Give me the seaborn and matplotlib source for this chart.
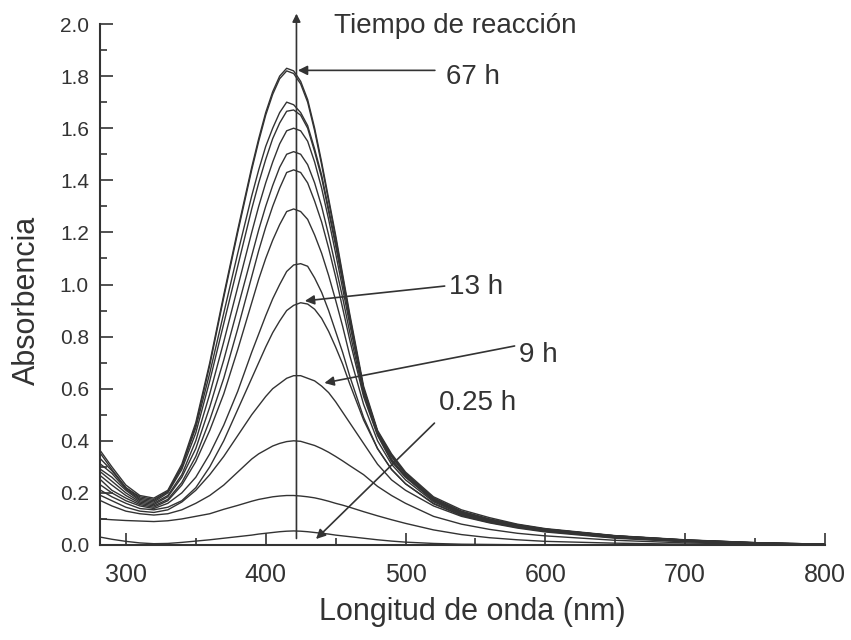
import numpy as np
import pandas as pd
import matplotlib
matplotlib.use("Agg")
import matplotlib.pyplot as plt
import seaborn as sns
from matplotlib.ticker import MultipleLocator

# ---------------- data ----------------
wavelength = [282, 290, 300, 310, 320, 330, 340, 350, 360, 370, 380, 390, 395, 400, 405,
              410, 415, 420, 425, 430, 435, 440, 445, 450, 455, 460, 470, 480, 490, 500,
              520, 540, 560, 580, 600, 650, 700, 750, 800]

abs_c1 = [0.36, 0.30, 0.23, 0.19, 0.18, 0.21, 0.31, 0.47, 0.70, 0.96, 1.21, 1.45, 1.56, 1.66, 1.74,
          1.80, 1.83, 1.82, 1.78, 1.71, 1.60, 1.47, 1.33, 1.19, 1.04, 0.89, 0.61, 0.44, 0.35, 0.28,
          0.185, 0.135, 0.105, 0.080, 0.063, 0.036, 0.020, 0.009, 0.003]
abs_c2 = [0.35, 0.29, 0.22, 0.185, 0.175, 0.205, 0.30, 0.46, 0.69, 0.95, 1.20, 1.44, 1.55, 1.65, 1.73,
          1.79, 1.82, 1.81, 1.77, 1.70, 1.59, 1.46, 1.32, 1.18, 1.03, 0.88, 0.60, 0.43, 0.34, 0.275,
          0.18, 0.13, 0.10, 0.077, 0.061, 0.035, 0.019, 0.009, 0.003]
abs_c3 = [0.33, 0.285, 0.22, 0.18, 0.17, 0.205, 0.30, 0.45, 0.66, 0.89, 1.12, 1.34, 1.44, 1.53, 1.60,
          1.66, 1.70, 1.69, 1.66, 1.61, 1.52, 1.42, 1.29, 1.16, 1.02, 0.875, 0.60, 0.435, 0.345, 0.275,
          0.18, 0.128, 0.099, 0.078, 0.061, 0.035, 0.019, 0.009, 0.003]
abs_c4 = [0.31, 0.275, 0.215, 0.175, 0.165, 0.20, 0.29, 0.43, 0.63, 0.85, 1.07, 1.29, 1.39, 1.48, 1.56,
          1.62, 1.665, 1.67, 1.65, 1.60, 1.51, 1.41, 1.28, 1.15, 1.01, 0.87, 0.60, 0.435, 0.34, 0.27,
          0.177, 0.126, 0.097, 0.077, 0.060, 0.035, 0.019, 0.008, 0.002]
abs_c5 = [0.29, 0.26, 0.21, 0.17, 0.16, 0.19, 0.27, 0.40, 0.58, 0.78, 0.99, 1.20, 1.30, 1.39, 1.47,
          1.54, 1.59, 1.60, 1.59, 1.55, 1.47, 1.37, 1.25, 1.12, 0.985, 0.85, 0.59, 0.43, 0.33, 0.265,
          0.174, 0.124, 0.096, 0.076, 0.060, 0.034, 0.018, 0.008, 0.002]
abs_c6 = [0.28, 0.245, 0.20, 0.165, 0.155, 0.185, 0.26, 0.37, 0.53, 0.71, 0.91, 1.11, 1.21, 1.30, 1.38,
          1.45, 1.50, 1.51, 1.50, 1.46, 1.39, 1.30, 1.19, 1.07, 0.95, 0.82, 0.58, 0.425, 0.325, 0.262,
          0.172, 0.122, 0.094, 0.074, 0.059, 0.033, 0.018, 0.008, 0.002]
abs_c7 = [0.265, 0.23, 0.19, 0.16, 0.15, 0.175, 0.24, 0.34, 0.48, 0.64, 0.83, 1.03, 1.13, 1.22, 1.30,
          1.37, 1.43, 1.44, 1.43, 1.39, 1.32, 1.24, 1.14, 1.03, 0.91, 0.79, 0.57, 0.42, 0.32, 0.26,
          0.170, 0.120, 0.093, 0.073, 0.058, 0.032, 0.017, 0.007, 0.002]
abs_c8 = [0.25, 0.21, 0.18, 0.155, 0.145, 0.17, 0.23, 0.32, 0.44, 0.58, 0.75, 0.93, 1.02, 1.10, 1.17,
          1.23, 1.28, 1.29, 1.28, 1.25, 1.19, 1.12, 1.035, 0.94, 0.84, 0.73, 0.54, 0.40, 0.31, 0.25,
          0.166, 0.118, 0.091, 0.071, 0.056, 0.031, 0.016, 0.007, 0.002]
abs_c9 = [0.23, 0.20, 0.17, 0.15, 0.14, 0.16, 0.20, 0.26, 0.35, 0.46, 0.59, 0.74, 0.81, 0.88, 0.945,
          1.00, 1.05, 1.075, 1.08, 1.07, 1.025, 0.97, 0.90, 0.82, 0.74, 0.65, 0.49, 0.37, 0.29, 0.235,
          0.158, 0.113, 0.087, 0.068, 0.053, 0.029, 0.015, 0.006, 0.002]
abs_c10 = [0.21, 0.185, 0.16, 0.14, 0.135, 0.145, 0.17, 0.22, 0.30, 0.40, 0.52, 0.64, 0.70, 0.76, 0.815,
           0.86, 0.90, 0.92, 0.93, 0.925, 0.905, 0.87, 0.82, 0.76, 0.695, 0.62, 0.48, 0.37, 0.29, 0.235,
           0.16, 0.115, 0.088, 0.068, 0.053, 0.028, 0.014, 0.006, 0.002]
abs_c11 = [0.19, 0.17, 0.145, 0.13, 0.125, 0.135, 0.165, 0.21, 0.27, 0.34, 0.42, 0.50, 0.535, 0.57, 0.60,
           0.62, 0.64, 0.65, 0.65, 0.64, 0.63, 0.61, 0.585, 0.55, 0.51, 0.47, 0.39, 0.31, 0.25, 0.21,
           0.15, 0.11, 0.085, 0.065, 0.050, 0.026, 0.012, 0.005, 0.001]
abs_c12 = [0.17, 0.15, 0.13, 0.12, 0.115, 0.12, 0.135, 0.16, 0.19, 0.23, 0.28, 0.33, 0.35, 0.365, 0.38,
           0.39, 0.397, 0.40, 0.398, 0.39, 0.382, 0.37, 0.356, 0.34, 0.323, 0.305, 0.27, 0.225, 0.19, 0.16,
           0.11, 0.08, 0.06, 0.045, 0.035, 0.018, 0.008, 0.003, 0.0]
abs_c13 = [0.10, 0.097, 0.094, 0.092, 0.09, 0.093, 0.10, 0.11, 0.12, 0.137, 0.152, 0.168, 0.175, 0.18, 0.185,
           0.188, 0.19, 0.19, 0.188, 0.185, 0.181, 0.175, 0.168, 0.16, 0.153, 0.145, 0.128, 0.112, 0.097, 0.083,
           0.058, 0.04, 0.028, 0.02, 0.014, 0.007, 0.003, 0.001, 0.0]
abs_c14 = [0.03, 0.022, 0.014, 0.008, 0.005, 0.006, 0.01, 0.015, 0.02, 0.026, 0.032, 0.038, 0.042, 0.045, 0.048,
           0.051, 0.053, 0.054, 0.053, 0.051, 0.048, 0.045, 0.042, 0.038, 0.035, 0.032, 0.026, 0.02, 0.015, 0.011,
           0.006, 0.003, 0.002, 0.001, 0.001, 0.0, 0.0, 0.0, 0.0]

curve_names = ["c1", "c2", "c3", "c4", "c5", "c6", "c7", "c8", "c9", "c10", "c11", "c12", "c13", "c14"]
curve_values = [abs_c1, abs_c2, abs_c3, abs_c4, abs_c5, abs_c6, abs_c7, abs_c8, abs_c9, abs_c10,
                abs_c11, abs_c12, abs_c13, abs_c14]

x_ticks = [300, 400, 500, 600, 700, 800]
y_ticks = [0.0, 0.2, 0.4, 0.6, 0.8, 1.0, 1.2, 1.4, 1.6, 1.8, 2.0]

# annotations: (label, text position, arrow start, arrow tip)
labels = ["67 h", "13 h", "9 h", "0.25 h"]
label_pos = [(529, 1.797), (531, 0.99), (581, 0.73), (524, 0.545)]
arrow_start = [(521, 1.822), (528, 0.994), (578, 0.764), (520.7, 0.468)]
arrow_tip = [(423, 1.822), (428, 0.937), (442, 0.622), (436, 0.023)]
marker_wavelength = 422
title_text = "Tiempo de reacción"

# ---------------- build table ----------------
rows = []
for name, vals in zip(curve_names, curve_values):
    for w, a in zip(wavelength, vals):
        rows.append({"nm": w, "A": a, "curve": name})
df = pd.DataFrame(rows)

INK = "#333333"

sns.set_theme(style="ticks")
plt.rcParams['font.family'] = ['Liberation Sans', 'DejaVu Sans']
plt.rcParams['text.color'] = INK
plt.rcParams['axes.labelcolor'] = INK
plt.rcParams['xtick.color'] = INK
plt.rcParams['ytick.color'] = INK

fig = plt.figure(figsize=(8.51, 6.40), dpi=100)
ax = fig.add_axes([100 / 851, 95 / 640, 725 / 851, 521 / 640])

sns.lineplot(data=df, x="nm", y="A", units="curve", estimator=None, sort=False,
             color=INK, lw=1.0, ax=ax, legend=False)

ax.set_xlim(281.5, 800)
ax.set_ylim(0, 2.0)
ax.set_xticks(x_ticks)
ax.set_yticks(y_ticks)
ax.set_xticklabels([str(v) for v in x_ticks])
ax.set_yticklabels([f"{v:.1f}" for v in y_ticks])
ax.xaxis.set_minor_locator(MultipleLocator(50))
ax.yaxis.set_minor_locator(MultipleLocator(0.1))

for s in ["top", "right"]:
    ax.spines[s].set_visible(False)
for s in ["left", "bottom"]:
    ax.spines[s].set_color(INK)
    ax.spines[s].set_linewidth(1.5)

ax.tick_params(axis="both", which="major", direction="in", length=9, width=1.2, color=INK)
ax.tick_params(axis="both", which="minor", direction="in", length=5, width=1.2, color=INK)
ax.tick_params(axis="x", which="major", labelsize=18, pad=13)
ax.tick_params(axis="y", which="major", labelsize=15, pad=8)

ax.set_xlabel("Longitud de onda (nm)", fontsize=22)
ax.set_ylabel("Absorbencia", fontsize=22)
ax.xaxis.set_label_coords(0.513, -0.10)
ax.yaxis.set_label_coords(-0.08, 0.47)

# vertical reaction-time arrow
ax.annotate("", xy=(marker_wavelength, 2.04), xytext=(marker_wavelength, 0.025),
            xycoords="data", textcoords="data", annotation_clip=False,
            arrowprops=dict(arrowstyle="-|>", color=INK, lw=1.2, mutation_scale=12,
                            shrinkA=0, shrinkB=0))
ax.text(449, 1.966, title_text, fontsize=20, ha="left", va="baseline", color=INK, clip_on=False)

for lab, tp, st, tip in zip(labels, label_pos, arrow_start, arrow_tip):
    ax.annotate("", xy=tip, xytext=st, xycoords="data", textcoords="data",
                arrowprops=dict(arrowstyle="-|>", color=INK, lw=1.2, mutation_scale=14,
                                shrinkA=0, shrinkB=0))
    ax.text(tp[0], tp[1], lab, fontsize=20, ha="left", va="center", color=INK)

fig.savefig("out.png", dpi=100, facecolor="white")
